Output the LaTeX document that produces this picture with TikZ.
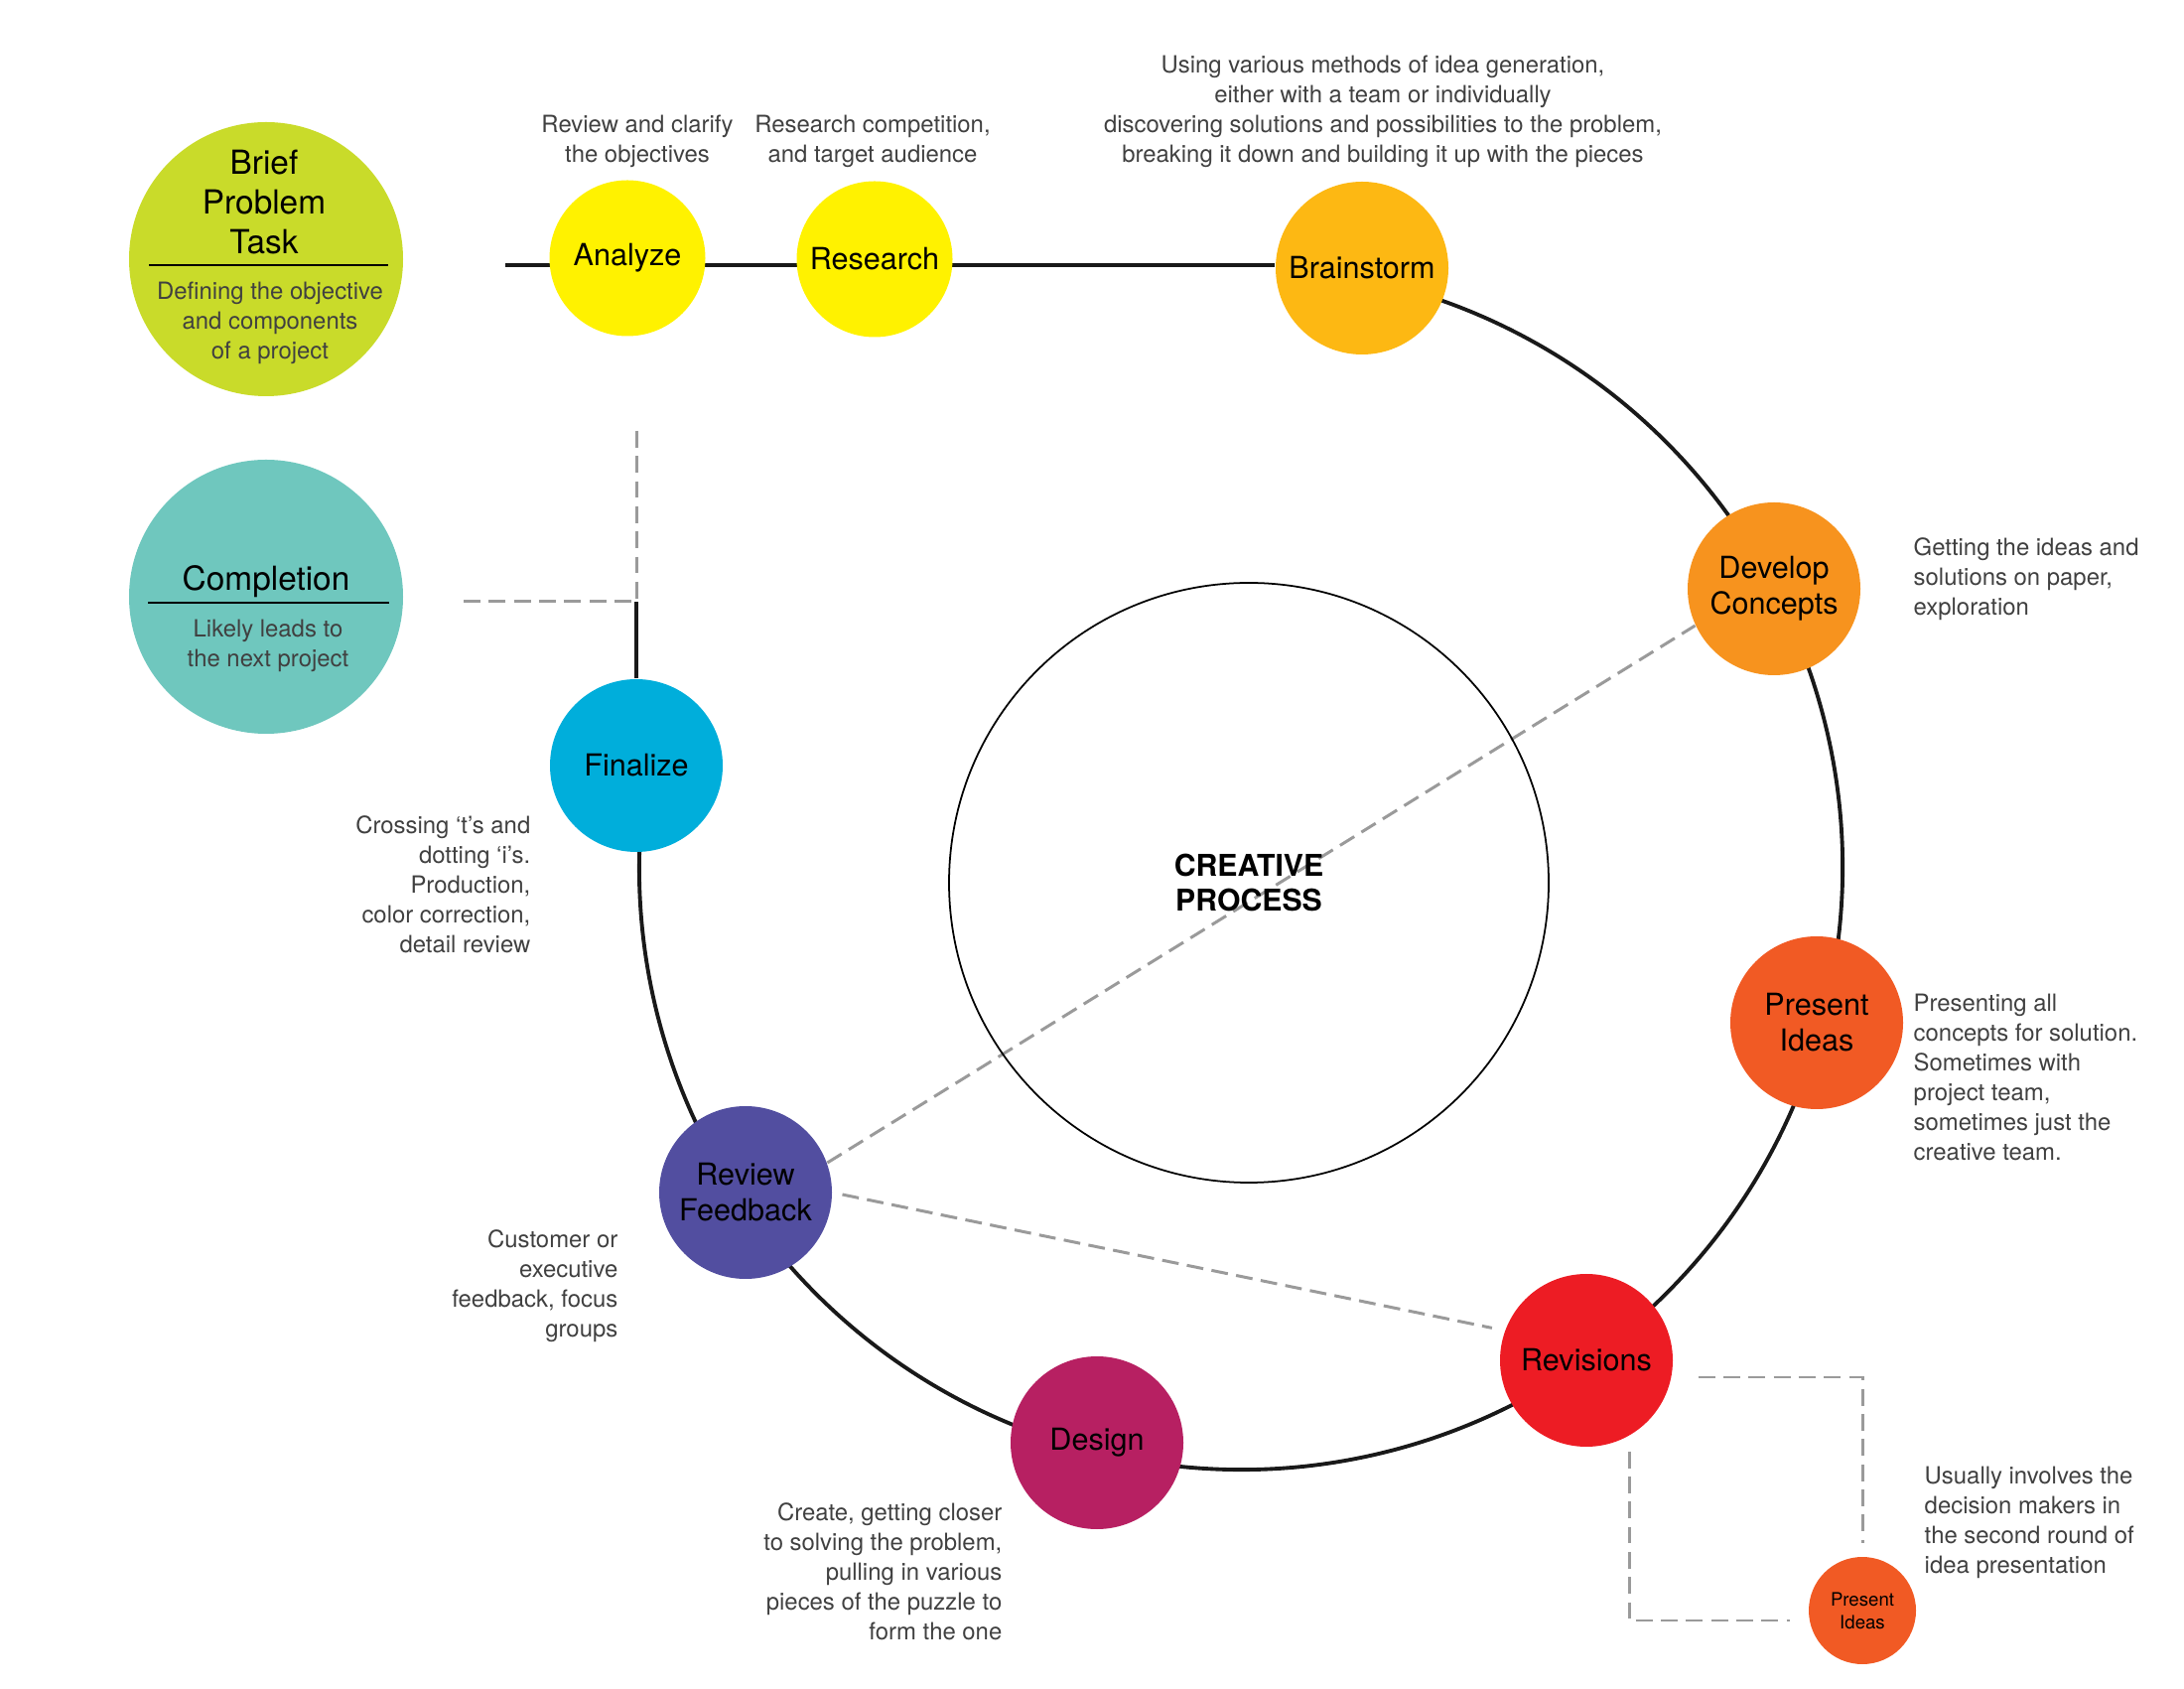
\documentclass[tikz,border=0pt]{standalone}
\usepackage{fontspec}
\setmainfont{TeX Gyre Heros}
\usetikzlibrary{backgrounds,calc}

\definecolor{briefgreen}{HTML}{C9DB2A}
\definecolor{finishteal}{HTML}{6FC7BE}
\definecolor{ideayellow}{HTML}{FFF200}
\definecolor{brainorange}{HTML}{FDB813}
\definecolor{developorange}{HTML}{F7931E}
\definecolor{presentorange}{HTML}{F15A24}
\definecolor{revisionred}{HTML}{ED1C24}
\definecolor{designmagenta}{HTML}{B72062}
\definecolor{reviewviolet}{HTML}{524EA0}
\definecolor{finalblue}{HTML}{00AEDB}
\definecolor{notegray}{HTML}{404040}
\definecolor{dashgray}{HTML}{9A9A9A}

\begin{document}
\begin{tikzpicture}[
  stage/.style={circle,inner sep=0pt,minimum size=1.74cm,align=center,text=black,font=\fontsize{8.7}{10.2}\selectfont},
  hub/.style={circle,inner sep=0pt,minimum size=2.76cm},
  hubtitle/.style={inner sep=0pt,align=center,text=black,font=\fontsize{9.5}{11.4}\selectfont},
  note/.style={inner sep=0pt,text=notegray,font=\fontsize{6.8}{8.54}\selectfont},
  ring/.style={line width=1.1pt,black!90},
  rule/.style={line width=.8pt,black},
  dashlink/.style={line width=.85pt,dashgray,dash pattern=on 4.8pt off 2.4pt}
]
  \useasboundingbox (0,0) rectangle (22,17);

  \coordinate (loopc) at (12.50,8.26);
  \coordinate (topstart) at (5.09,14.33);
  \coordinate (corner) at (6.41,10.94);
  \coordinate (dashtop) at (6.41,12.66);
  \coordinate (dashleft) at (4.67,10.94);

  \node[hub,fill=briefgreen] (brief) at (2.68,14.39) {};
  \node[hub,fill=finishteal] (completion) at (2.68,10.99) {};
  \node[hubtitle,anchor=south] (brieftitle) at (2.66,14.43) {Brief\\Problem\\Task};
  \draw[rule] (1.50,14.33) -- (3.91,14.33);
  \node[note,align=center] (briefnote) at (2.72,13.75) {Defining the objective\\and components\\of a project};
  \node[hubtitle,anchor=base] (comptitle) at (2.68,11.05) {Completion};
  \draw[rule] (1.49,10.93) -- (3.92,10.93);
  \node[note,align=center] (compnote) at (2.70,10.50) {Likely leads to\\the next project};

  \node[stage,fill=ideayellow,minimum size=1.57cm] (analyze) at (6.32,14.40) {Analyze};
  \node[stage,fill=ideayellow,minimum size=1.57cm] (research) at (8.81,14.39) {Research};
  \node[stage,fill=brainorange] (brainstorm) at (13.72,14.30) {Brainstorm};
  \node[stage,fill=developorange] (develop) at (17.87,11.07) {Develop\\Concepts};
  \node[stage,fill=presentorange] (present) at (18.30,6.70) {Present\\Ideas};
  \node[stage,fill=revisionred] (revisions) at (15.98,3.30) {Revisions};
  \node[stage,fill=designmagenta] (design) at (11.05,2.47) {Design};
  \node[stage,fill=reviewviolet] (review) at (7.51,4.99) {Review\\Feedback};
  \node[stage,fill=finalblue] (finalize) at (6.41,9.29) {Finalize};
  \node[stage,fill=presentorange,minimum size=1.08cm,font=\fontsize{5.3}{6.5}\selectfont] (second) at (18.76,0.78) {Present\\Ideas};
  \node[circle,draw,line width=.5pt,minimum size=6.04cm,inner sep=0pt,align=center,font=\bfseries\fontsize{8.6}{10.1}\selectfont] (core) at (12.58,8.11) {CREATIVE\\PROCESS};

  \node[note,align=center] (analyzenote) at (6.42,15.58) {Review and clarify\\the objectives};
  \node[note,align=center] (researchnote) at (8.79,15.58) {Research competition,\\and target audience};
  \node[note,align=center] (brainnote) at (13.93,15.88) {Using various methods of idea generation,\\either with a team or individually\\discovering solutions and possibilities to the problem,\\breaking it down and building it up with the pieces};
  \node[note,align=left,anchor=west] (developnote) at (19.27,11.17) {Getting the ideas and\\solutions on paper,\\exploration};
  \node[note,align=left,anchor=west] (presentnote) at (19.27,6.15) {Presenting all\\concepts for solution.\\Sometimes with\\project team,\\sometimes just the\\creative team.};
  \node[note,align=right,anchor=east] (finalnote) at (5.35,8.09) {Crossing ‘t’s and\\dotting ‘i’s.\\Production,\\color correction,\\detail review};
  \node[note,align=right,anchor=east] (reviewnote) at (6.23,4.05) {Customer or\\executive\\feedback, focus\\groups};
  \node[note,align=right,anchor=east] (designnote) at (10.10,1.17) {Create, getting closer\\to solving the problem,\\pulling in various\\pieces of the puzzle to\\form the one};
  \node[note,align=left,anchor=west] (secondnote) at (19.38,1.67) {Usually involves the\\decision makers in\\the second round of\\idea presentation};

  \begin{scope}[on background layer]
    \draw[ring] (topstart) -- (topstart -| brainstorm.west);
    \draw[ring] (loopc) ++(78:6.06) arc[start angle=78,end angle=-190,radius=6.06];
    \draw[ring] (finalize.north) -- (corner);
    \draw[dashlink] (dashtop) -- (corner) -- (dashleft);
    \draw[dashlink] (review.20) -- (develop.205);
    \draw[dashlink,shorten <=.1cm,shorten >=.13cm] (review.east) -- (revisions.160);
    \draw[dashlink,shorten >=.13cm] ($(revisions.east)+(.25,-.17)$) -| (second.north);
    \draw[dashlink] ($(revisions.south)+(.43,-.04)$) |- ($(second.west)+(-.18,-.10)$);
  \end{scope}
\end{tikzpicture}
\end{document}
